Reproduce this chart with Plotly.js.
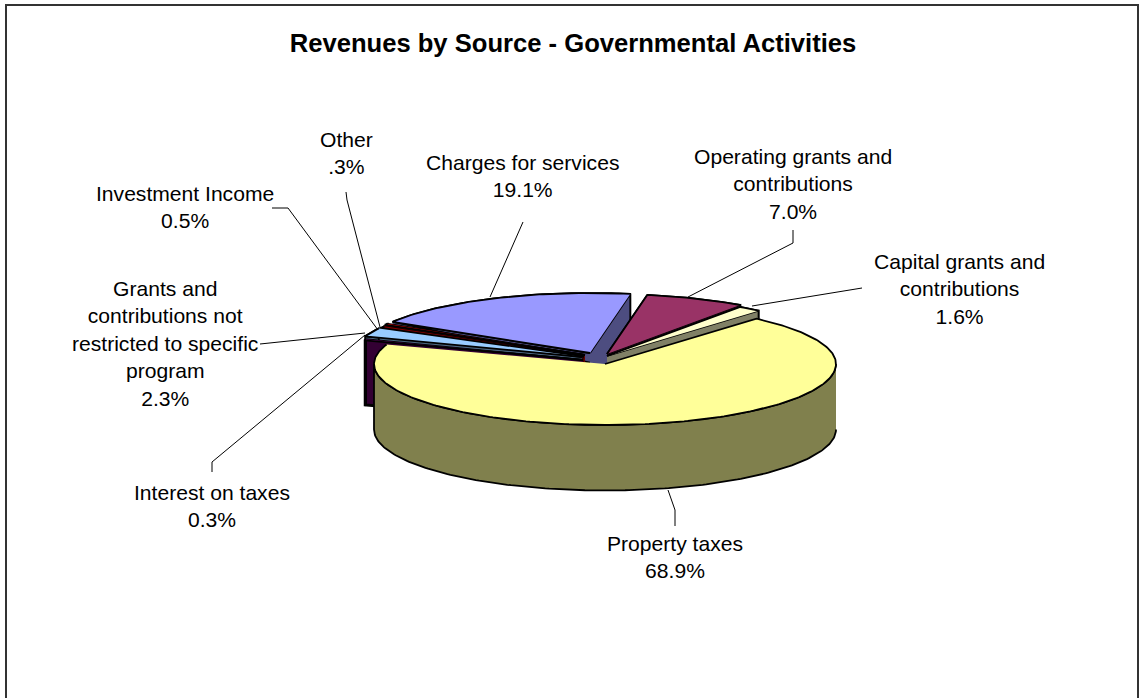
<!DOCTYPE html>
<html><head><meta charset="utf-8">
<script src="https://cdn.plot.ly/plotly-3.0.1.min.js"></script>
<style>html,body{margin:0;padding:0;background:#fff;overflow:hidden}#c{width:1139px;height:698px}</style>
</head><body><div id="c"></div>
<script>
// ---- data, clockwise from the edge shared by Capital grants and Property taxes
const categories = ["Property taxes","Interest on taxes","Grants and contributions not restricted to specific program","Investment Income","Other","Charges for services","Operating grants and contributions","Capital grants and contributions"];
const values = [68.9,0.3,2.3,0.5,0.3,19.1,7.0,1.6];
const valueText = ["68.9%","0.3%","2.3%","0.5%",".3%","19.1%","7.0%","1.6%"];
// ---- label wrapping
const labelLines = [["Property taxes"],["Interest on taxes"],["Grants and","contributions not","restricted to specific","program"],["Investment Income"],["Other"],["Charges for services"],["Operating grants and","contributions"],["Capital grants and","contributions"]];
// ---- style
const faceColors = ["#FFFF99","#660066","#99CCFF","#800000","#CC0000","#9999FF","#993366","#FFFFCC"];
const wallColors = ["#80804D","#330033","#4D6680","#400000","#660000","#4D4D80","#4D1A33","#808066"];
// ---- layout of pie
const apexX = [605,583,582,584,585,590,607,607];
const apexY = [364,360,357,356.5,355,353,354,356];
const wallDepth = [65.5,65,60,60,60,60,60,60];
const paintOrder = [5,4,3,2,1,6,7,0];
const labelX = [675,212,165,185,346,522,793,959];
const labelY = [543,492,289,193,139,162,157,262];
const leaderX = [[668,675,675],[365,212,212],[365,260],[378,288,272],[380,347,346],[490,523],[688,793,793],[752,862]];
const leaderY = [[490,510,526],[335,462,472],[333,344],[330,208,208],[327,200,192],[297,222],[297,243,230],[306,288]];
const startDeg = 41, radiusX = 231, backRadiusY = 60, frontRadiusY = 61;

const total = values.reduce((a,b)=>a+b,0);
function pt(i,deg){
  const t = deg*Math.PI/180, c = Math.cos(t);
  return [apexX[i]+radiusX*Math.sin(t), apexY[i]-(c>0?backRadiusY:frontRadiusY)*c];
}
function arc(i,a,b){ const p=[]; for(let d=a;d<b;d+=1)p.push(pt(i,d)); p.push(pt(i,b)); return p; }
function poly(pts,fill){
  return {type:"scatter",mode:"lines",x:pts.map(p=>p[0]),y:pts.map(p=>p[1]),fill:"toself",fillcolor:fill,
    line:{color:"#000",width:1.8},hoverinfo:"skip",showlegend:false};
}
const startA=[],endA=[]; let acc=startDeg;
values.forEach((v,i)=>{startA[i]=acc; acc+=v/total*360; endA[i]=acc;});

const traces=[];
paintOrder.forEach(i=>{
  const ap=[apexX[i],apexY[i]], d=wallDepth[i], s=pt(i,startA[i]), e=pt(i,endA[i]);
  const a=arc(i,startA[i],endA[i]);
  // outer rim: a slice wider than the front half only shows its front half
  const rim = (endA[i]-startA[i]>180) ? arc(i,90,270) : a;
  traces.push(poly(rim.concat(rim.slice().reverse().map(p=>[p[0],p[1]+d])),wallColors[i]));
  if(i===5){ // right wall is foreshortened in the reference
    traces.push(poly([ap,s,[ap[0]+16,ap[1]+13],[ap[0],ap[1]+13]],wallColors[i]));
  } else if(i!==0){
    traces.push(poly([ap,s,[s[0],s[1]+d],[ap[0],ap[1]+d]],wallColors[i]));
  }
  if(i!==0) traces.push(poly([ap,e,[e[0],e[1]+d],[ap[0],ap[1]+d]],wallColors[i]));
  traces.push(poly([ap].concat(a),faceColors[i]));
});
leaderX.forEach((xs,i)=>traces.push({type:"scatter",mode:"lines",x:xs,y:leaderY[i],line:{color:"#000",width:1},hoverinfo:"skip",showlegend:false}));

const lineGap=27.4;
const annotations=categories.map((c,i)=>{
  const rows=labelLines[i].concat([valueText[i]]);
  return {x:labelX[i],y:labelY[i]+(rows.length-1)*lineGap/2,text:rows.join("<br>"),showarrow:false,xanchor:"center",yanchor:"middle",align:"center",
    font:{family:"Liberation Sans, Arial, sans-serif",size:21.1,color:"#000"}};
});

Plotly.newPlot("c",traces,{
  width:1139,height:698,margin:{l:0,r:0,t:0,b:0},paper_bgcolor:"#fff",plot_bgcolor:"#fff",showlegend:false,
  title:{text:"<b>Revenues by Source - Governmental Activities</b>",x:573/1139,xanchor:"center",y:1-43/698,yref:"container",yanchor:"middle",
    font:{family:"Liberation Sans, Arial, sans-serif",size:25.6,color:"#000"}},
  xaxis:{range:[0,1139],visible:false,fixedrange:true},
  yaxis:{range:[698,0],visible:false,fixedrange:true},
  annotations:annotations,
  shapes:[{type:"rect",xref:"x",yref:"y",x0:6,y0:5,x1:1138,y1:720,line:{color:"#333",width:2},fillcolor:"rgba(0,0,0,0)"}]
},{displayModeBar:false,staticPlot:true});
</script></body></html>
